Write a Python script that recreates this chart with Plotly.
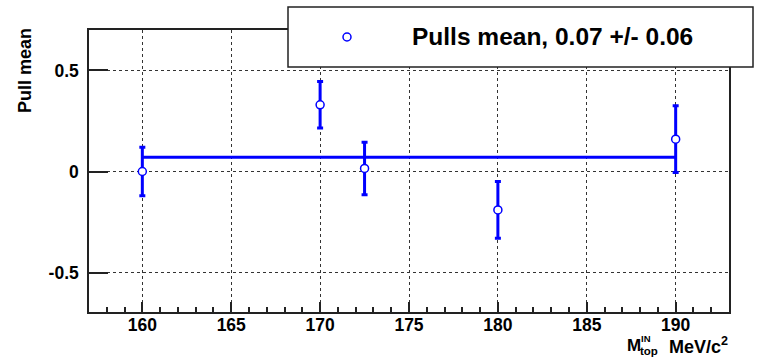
import plotly.graph_objects as go

# Pull means per input top mass
mass = [160, 170, 172.5, 180, 190]
pull = [0.0, 0.33, 0.015, -0.19, 0.16]
pull_err = [0.12, 0.115, 0.13, 0.14, 0.165]

# Mean of all pulls, spanning the mass range
mean_val = 0.07
mean_err = 0.06
mean_span = [160, 190]

x_ticks = [160, 165, 170, 175, 180, 185, 190]
y_ticks = [-0.5, 0, 0.5]
y_tick_text = ["-0.5", "0", "0.5"]

BLUE = "#0000ff"
FONT = "Liberation Sans"

# plot area in pixels
L, R, T, B = 89, 729, 30, 312
W, H = 757, 359
PW, PH = R - L, B - T


def px(x):
    return (x - L) / PW


def py(y):
    return (B - y) / PH


fig = go.Figure()

fig.add_trace(go.Scatter(
    x=mean_span, y=[mean_val] * len(mean_span), mode="lines",
    line=dict(color=BLUE, width=3), showlegend=False, hoverinfo="skip",
))

fig.add_trace(go.Scatter(
    x=mass, y=pull, mode="markers",
    marker=dict(symbol="circle", size=8, color="white",
                line=dict(color=BLUE, width=1.5)),
    error_y=dict(type="data", array=pull_err, visible=True,
                 color=BLUE, thickness=3, width=3),
    showlegend=False,
))

axis_font = dict(family=FONT, size=17.5, color="black", weight="bold")

fig.update_xaxes(
    range=[157.0, 193.0], tickvals=x_ticks, ticks="inside", ticklen=10,
    tickwidth=1.5, tickcolor="#222", showline=True, linecolor="#222",
    linewidth=1.5, mirror=True, showgrid=True, gridcolor="#333",
    griddash="dot", gridwidth=1, zeroline=False, tickfont=axis_font,
    minor=dict(ticks="inside", ticklen=5, dtick=1, tickcolor="#222",
               showgrid=False),
    ticklabelstandoff=-4,
)
fig.update_yaxes(
    range=[-0.695, 0.70], tickvals=y_ticks, ticktext=y_tick_text,
    ticks="inside", ticklen=19, tickwidth=1.5, tickcolor="#222",
    showline=True, linecolor="#222", linewidth=1.5, mirror=True,
    showgrid=True, gridcolor="#333", griddash="dot", gridwidth=1,
    zeroline=False, tickfont=axis_font, ticklabelstandoff=5,
)

shapes = [
    # legend box
    dict(type="rect", xref="paper", yref="paper",
         x0=px(288), x1=px(753), y0=py(67), y1=py(7),
         line=dict(color="#222", width=1.5), fillcolor="white", layer="above"),
    # legend marker
    dict(type="circle", xref="paper", yref="paper",
         xsizemode="pixel", ysizemode="pixel",
         xanchor=px(347), yanchor=py(37),
         x0=-4, x1=4, y0=-4, y1=4,
         line=dict(color=BLUE, width=1.5), fillcolor="white", layer="above"),
]

annotations = [
    dict(text="Pulls mean, %.2f +/- %.2f" % (mean_val, mean_err),
         xref="paper", yref="paper", x=px(552), y=py(37),
         xanchor="center", yanchor="middle", showarrow=False,
         font=dict(family=FONT, size=24.5, color="black", weight="bold")),
    dict(text="Pull mean", xref="paper", yref="paper",
         x=px(25), y=py(71), xanchor="center", yanchor="middle",
         textangle=-90, showarrow=False,
         font=dict(family=FONT, size=18, color="black", weight="bold")),
    dict(text="M", xref="paper", yref="paper", x=px(625), y=py(345),
         xanchor="left", yanchor="middle", showarrow=False,
         font=dict(family=FONT, size=17, color="black", weight="bold")),
    dict(text="IN", xref="paper", yref="paper", x=px(639), y=py(338),
         xanchor="left", yanchor="middle", showarrow=False,
         font=dict(family=FONT, size=9.5, color="black", weight="bold")),
    dict(text="top", xref="paper", yref="paper", x=px(638), y=py(351),
         xanchor="left", yanchor="middle", showarrow=False,
         font=dict(family=FONT, size=11.5, color="black", weight="bold")),
    dict(text="MeV/c<sup>2</sup>", xref="paper", yref="paper",
         x=px(730), y=py(345), xanchor="right", yanchor="middle",
         showarrow=False,
         font=dict(family=FONT, size=18, color="black", weight="bold")),
]

fig.update_layout(
    width=W, height=H,
    margin=dict(l=L, r=W - R, t=T, b=H - B, pad=0),
    paper_bgcolor="white", plot_bgcolor="white",
    shapes=shapes, annotations=annotations, showlegend=False,
)

fig.write_html("out.html")
